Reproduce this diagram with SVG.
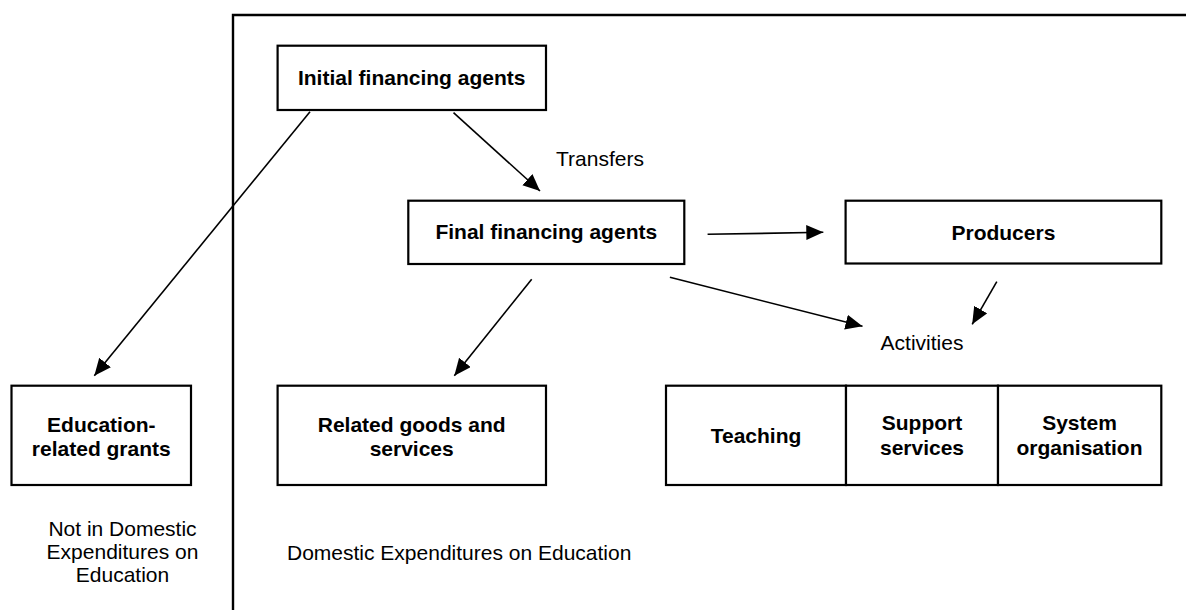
<svg xmlns="http://www.w3.org/2000/svg" width="1186" height="610" viewBox="0 0 1186 610">
  <style>
    .box { fill: #fff; stroke: #000; stroke-width: 2.2; }
    .frame { fill: none; stroke: #000; stroke-width: 2.4; }
    .conn { fill: none; stroke: #000; stroke-width: 1.6; marker-end: url(#arrow); }
    .b { font-family: "Liberation Sans", Arial, sans-serif; font-size: 21px; font-weight: bold; fill: #000; text-anchor: middle; }
    .r { font-family: "Liberation Sans", Arial, sans-serif; font-size: 21px; fill: #000; }
    .mid { text-anchor: middle; }
  </style>
  <defs>
    <marker id="arrow" markerUnits="userSpaceOnUse" markerWidth="18" markerHeight="16" refX="17" refY="7.5" orient="auto">
      <path d="M0,0 L17,7.5 L0,15 z" fill="#000"/>
    </marker>
  </defs>
  <rect width="1186" height="610" fill="#fff"/>
  <g id="frame">
    <path class="frame" d="M233,610 L233,15 L1186,15"/>
  </g>
  <g id="connectors">
    <path class="conn" d="M310,111.7 L94.3,375.7"/>
    <path class="conn" d="M453.5,112.7 L540,191"/>
    <path class="conn" d="M707.6,234.3 L823.3,232.3"/>
    <path class="conn" d="M531.7,279.3 L454.3,375.7"/>
    <path class="conn" d="M669.9,277.3 L862.5,326.3"/>
    <path class="conn" d="M996.8,281.7 L972.2,324.3"/>
  </g>
  <g id="initial">
    <rect class="box" x="277.6" y="45.7" width="268.4" height="64.3"/>
    <text class="b" x="411.7" y="85">Initial financing agents</text>
  </g>
  <g id="transfers-label">
    <text class="r" x="556" y="165.7">Transfers</text>
  </g>
  <g id="final">
    <rect class="box" x="408.3" y="200.7" width="276" height="63.3"/>
    <text class="b" x="546.3" y="239">Final financing agents</text>
  </g>
  <g id="producers">
    <rect class="box" x="845.6" y="200.7" width="315.7" height="62.8"/>
    <text class="b" x="1003.4" y="240">Producers</text>
  </g>
  <g id="activities-label">
    <text class="r mid" x="922" y="349.5">Activities</text>
  </g>
  <g id="education-grants">
    <rect class="box" x="11.5" y="385.7" width="179.5" height="99.3"/>
    <text class="b" x="101.3" y="432">Education-</text>
    <text class="b" x="101.3" y="456">related grants</text>
  </g>
  <g id="related-goods">
    <rect class="box" x="277.6" y="385.7" width="268.4" height="99.3"/>
    <text class="b" x="411.7" y="432">Related goods and</text>
    <text class="b" x="411.7" y="456">services</text>
  </g>
  <g id="teaching">
    <rect class="box" x="666" y="385.7" width="180" height="99.3"/>
    <text class="b" x="756" y="443">Teaching</text>
  </g>
  <g id="support">
    <rect class="box" x="846" y="385.7" width="152" height="99.3"/>
    <text class="b" x="922" y="430">Support</text>
    <text class="b" x="922" y="454.5">services</text>
  </g>
  <g id="system">
    <rect class="box" x="998" y="385.7" width="163.3" height="99.3"/>
    <text class="b" x="1079.5" y="430">System</text>
    <text class="b" x="1079.5" y="454.5">organisation</text>
  </g>
  <g id="not-in-label">
    <text class="r mid" x="122.5" y="535.7">Not in Domestic</text>
    <text class="r mid" x="122.5" y="559">Expenditures on</text>
    <text class="r mid" x="122.5" y="582.3">Education</text>
  </g>
  <g id="domestic-label">
    <text class="r" x="287" y="560">Domestic Expenditures on Education</text>
  </g>
</svg>
